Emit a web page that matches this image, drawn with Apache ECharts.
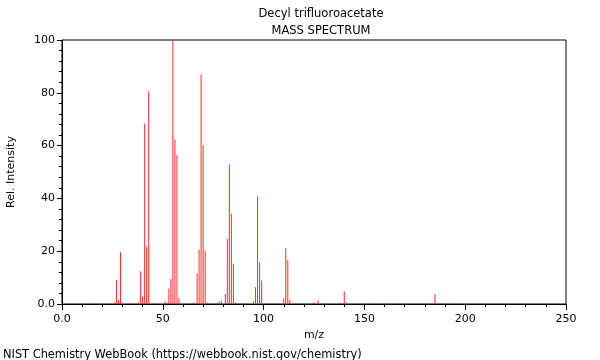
<!DOCTYPE html>
<html><head><meta charset="utf-8">
<script src="https://cdn.jsdelivr.net/npm/echarts@6/dist/echarts.min.js"></script>
<style>html,body{margin:0;padding:0;background:#fff}#c{width:600px;height:360px}</style>
</head><body><div id="c"></div>
<script>
const mzValues = [15, 26, 27, 28, 29, 30, 33, 38, 39, 40, 41, 42, 43, 45, 51, 52, 53, 54, 55, 56, 57, 58,
  65, 66, 67, 68, 69, 70, 71, 72, 77, 78, 79, 81, 82, 83, 84, 85, 86,
  95, 96, 97, 98, 99, 110, 111, 112, 113, 114, 125, 126, 127, 138, 140, 141, 152, 155, 167, 185, 186, 193];
const intensities = [0.3, 0.5, 9.1, 1.5, 19.6, 0.5, 0.3, 0.6, 12.4, 2.8, 68.4, 21.8, 80.6, 0.3, 0.9, 0.4, 5.9, 9.5, 100, 62.3, 56.3, 2.3,
  0.6, 0.5, 11.6, 20.6, 86.9, 60.1, 20.3, 0.6, 0.5, 0.8, 1.3, 3.8, 24.7, 52.8, 34.2, 15.2, 0.6,
  1.0, 6.3, 40.8, 15.7, 8.9, 2.1, 21.1, 16.6, 1.6, 0.3, 0.6, 0.3, 1.4, 0.5, 4.8, 0.6, 0.3, 0.3, 0.3, 3.8, 0.4, 0.3];
const xTickLabels = {0: '0.0'};
const yTickLabels = {0: '0.0'};
const titleText = 'Decyl trifluoroacetate';
const subtitleText = 'MASS SPECTRUM';
const footerText = 'NIST Chemistry WebBook (https://webbook.nist.gov/chemistry)';

const font = 'DejaVu Sans';
const chart = echarts.init(document.getElementById('c'), null, {renderer: 'canvas'});
chart.setOption({
  animation: false,
  backgroundColor: '#fff',
  title: [
    {text: titleText, left: 316, top: 3, textAlign: 'center', textStyle: {fontFamily: font, fontSize: 11.5, fontWeight: 'normal', color: '#000'}},
    {text: subtitleText, left: 316, top: 20, textAlign: 'center', textStyle: {fontFamily: font, fontSize: 11.5, fontWeight: 'normal', color: '#000'}},
    {text: footerText, left: -2, top: 345, textStyle: {fontFamily: font, fontSize: 11.4, fontWeight: 'normal', color: '#000'}}
  ],
  grid: {left: 62, right: 34, top: 40, bottom: 56, containLabel: false, outerBoundsMode: 'none',
    show: true, borderColor: '#000', borderWidth: 1, backgroundColor: 'transparent'},
  xAxis: {
    type: 'value', min: 0, max: 250, interval: 50,
    name: 'm/z', nameLocation: 'middle', nameGap: 25,
    nameTextStyle: {fontFamily: font, fontSize: 11, color: '#000'},
    axisLine: {show: true, lineStyle: {color: '#000', width: 1}},
    axisTick: {show: true, length: 6, lineStyle: {color: '#000'}},
    minorTick: {show: true, splitNumber: 5, length: 3, lineStyle: {color: '#000'}},
    axisLabel: {fontFamily: font, fontSize: 11, color: '#000', margin: 10,
      formatter: v => (xTickLabels[v] !== undefined ? xTickLabels[v] : String(v))},
    splitLine: {show: false}
  },
  yAxis: {
    type: 'value', min: 0, max: 100, interval: 20,
    name: 'Rel. Intensity', nameLocation: 'middle', nameGap: 45, nameRotate: 90,
    nameTextStyle: {fontFamily: font, fontSize: 11, color: '#000'},
    axisLine: {show: true, lineStyle: {color: '#000', width: 1}},
    axisTick: {show: true, length: 5, lineStyle: {color: '#000'}},
    minorTick: {show: true, splitNumber: 5, length: 3, lineStyle: {color: '#000'}},
    axisLabel: {fontFamily: font, fontSize: 11, color: '#000', margin: 7,
      formatter: v => (yTickLabels[v] !== undefined ? yTickLabels[v] : String(v))},
    splitLine: {show: false}
  },
  series: [{
    type: 'bar',
    barWidth: 1,
    barMinHeight: 0,
    itemStyle: {color: '#ff2a2a'},
    data: mzValues.map((m, i) => [m, intensities[i]])
  }]
});
</script></body></html>
